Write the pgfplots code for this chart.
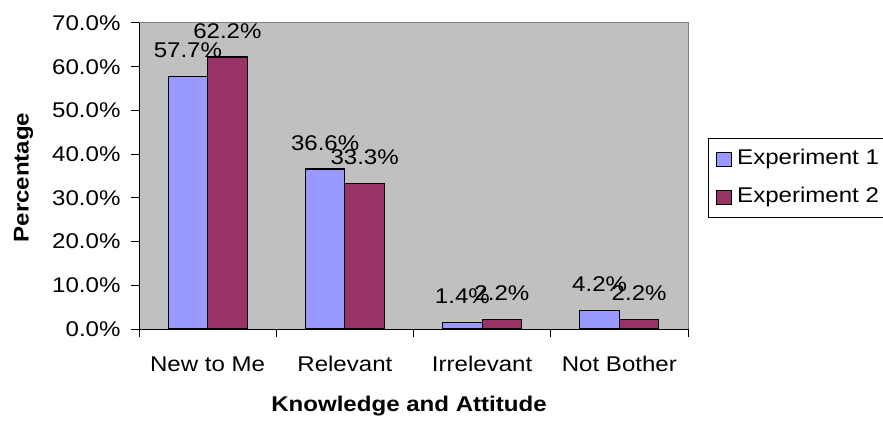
\documentclass[border=0pt]{standalone}
\usepackage{pgfplots}
\pgfplotsset{compat=1.18}
\usepackage{fontspec}
\setmainfont{Liberation Sans}[FakeStretch=1.13]
\newcommand\fs{\fontsize{21.3bp}{25bp}\selectfont}
\definecolor{expA}{HTML}{9999FF}
\definecolor{expB}{HTML}{993366}
\definecolor{plotbg}{HTML}{C0C0C0}
\begin{document}
\begin{tikzpicture}
\path[use as bounding box, clip] (0,0) rectangle (883bp,421bp);
\begin{axis}[
  /pgf/number format/assume math mode=true,
  at={(139bp,92bp)}, anchor=south west,
  width=549bp, height=306bp, scale only axis,
  xmin=-0.5, xmax=3.5, ymin=0, ymax=70,
  axis x line=bottom, axis y line=left,
  axis line style={-, black, line width=1bp},
  axis background/.style={fill=plotbg, draw=gray, line width=1bp},
  xtick={-0.5,0.5,1.5,2.5,3.5},
  x tick label as interval,
  xticklabels={New to Me,Relevant,Irrelevant,Not Bother,},
  ytick={0,10,...,70},
  yticklabel={\pgfmathprintnumber[fixed,fixed zerofill,precision=1]{\tick}\%},
  tick align=outside,
  major tick length=8bp,
  tick style={black, line width=1bp},
  tick label style={font=\fs},
  yticklabel style={anchor=east, xshift=-7bp},
  xticklabel style={anchor=base, yshift=-34bp},
  ybar=0pt, bar width=39.5bp,
  nodes near coords={\pgfmathprintnumber[fixed,fixed zerofill,precision=1]{\pgfplotspointmeta}\%},
  every node near coord/.append style={font=\fs, anchor=base, yshift=19bp, inner sep=0pt, text=black},
  xlabel={\bfseries Knowledge and Attitude},
  ylabel={\bfseries Percentage},
  every axis x label/.style={at={(axis description cs:0.4918,-0.2712)}, anchor=base, font=\fs},
  every axis y label/.style={at={(axis description cs:-0.2104,0.495)}, anchor=center, rotate=90, font=\fs},
  legend style={at={(1,0.5)}, anchor=west, xshift=20bp, yshift=-2bp, draw=black, fill=white, font=\fs,
    line width=0.8bp, row sep=13bp, column sep=3bp, inner xsep=8bp, inner ysep=8bp,
    nodes={inner sep=2bp, text height=16bp, text depth=5bp}},
  legend cell align=left,
  legend image code/.code={\draw[#1, draw=black, line width=0.8bp] (0bp,-7bp) rectangle (15bp,7bp);},
]
\addplot[fill=expA, draw=black, line width=1.2bp] coordinates {(0,57.7) (1,36.6) (2,1.4) (3,4.2)};
\addplot[fill=expB, draw=black, line width=1.2bp] coordinates {(0,62.2) (1,33.3) (2,2.2) (3,2.2)};
\legend{Experiment 1, Experiment 2}
\end{axis}
\end{tikzpicture}
\end{document}
